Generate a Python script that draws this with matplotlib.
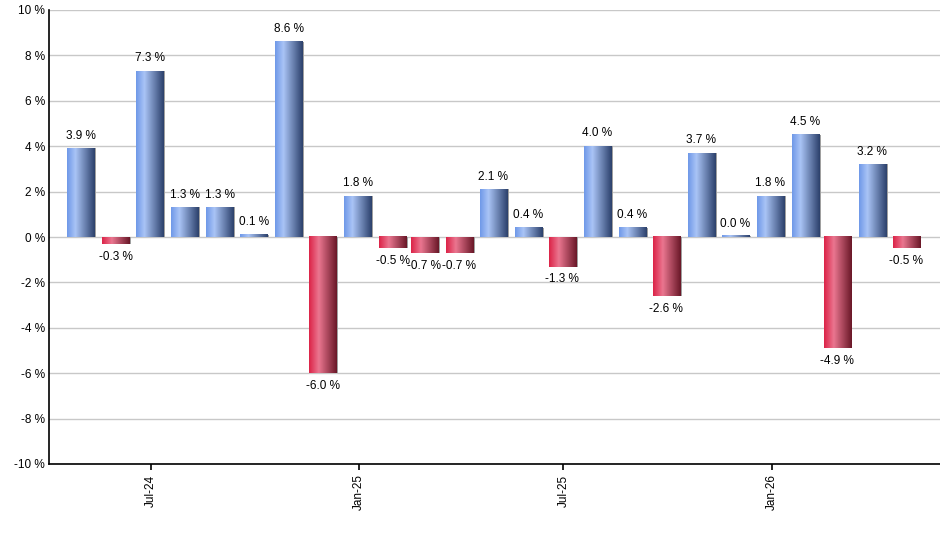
import numpy as np
import matplotlib
matplotlib.use("Agg")
import matplotlib.pyplot as plt
import matplotlib.dates as mdates
from matplotlib.colors import LinearSegmentedColormap
from matplotlib.patches import Rectangle
import datetime as dt

plt.rcParams["font.family"] = ["Liberation Sans", "DejaVu Sans"]

# monthly returns, one per month end (Apr-2024 .. Apr-2026)
start_year, start_month = 2024, 4
returns = [3.9, -0.3, 7.3, 1.3, 1.3, 0.1, 8.6, -6.0, 1.8, -0.5, -0.7, -0.7,
           2.1, 0.4, -1.3, 4.0, 0.4, -2.6, 3.7, 0.0, 1.8, 4.5, -4.9, 3.2, -0.5]
tick_dates = [dt.date(2024, 7, 1), dt.date(2025, 1, 1), dt.date(2025, 7, 1), dt.date(2026, 1, 1)]
tick_labels = ["Jul-24", "Jan-25", "Jul-25", "Jan-26"]


def month_end(y, m):
    if m == 12:
        return dt.date(y + 1, 1, 1) - dt.timedelta(days=1)
    return dt.date(y, m + 1, 1) - dt.timedelta(days=1)


dates = []
y, m = start_year, start_month
for _ in returns:
    dates.append(month_end(y, m))
    m += 1
    if m > 12:
        m = 1
        y += 1
xs = mdates.date2num(dates)

blue = LinearSegmentedColormap.from_list(
    "b", [(0, "#6f99e8"), (0.3, "#aac4f6"), (1, "#2c416c")])
red = LinearSegmentedColormap.from_list(
    "r", [(0, "#dc2448"), (0.35, "#ea7690"), (1, "#6a1828")])
grad = np.linspace(0, 1, 64).reshape(1, -1)

fig = plt.figure(figsize=(9.4, 5.5), dpi=100)
ax = fig.add_axes([49 / 940, 1 - 464 / 550, 1 - 49 / 940, 454 / 550])

half = 12
for x, v in zip(xs, returns):
    y0, y1 = min(0, v), max(0, v)
    if y1 - y0 < 0.06:
        y1 = y0 + 0.06
    cmap = blue if v >= 0 else red
    # small grey shadow on the right edge
    ax.add_patch(Rectangle((x + half, y0), 1.6, y1 - y0, color="#a0a0a0", zorder=2, lw=0))
    ax.imshow(grad, extent=[x - half, x + half, y0, y1], aspect="auto",
              cmap=cmap, zorder=3, interpolation="bilinear")
    if v >= 0:
        ax.text(x, v + 0.3, f"{v:.1f} %", ha="center", va="bottom", fontsize=8.5, zorder=4)
    else:
        ax.text(x, v - 0.3, f"{v:.1f} %", ha="center", va="top", fontsize=8.5, zorder=4)

ax.set_xlim(mdates.date2num(dt.date(2024, 4, 2)), mdates.date2num(dt.date(2026, 5, 30)))
ax.set_ylim(-10, 10)
ax.set_yticks(range(-10, 11, 2))
ax.set_yticklabels([f"{t} %" for t in range(-10, 11, 2)], fontsize=8.5)
ax.set_xticks(mdates.date2num(tick_dates))
ax.set_xticklabels(tick_labels, rotation=90, fontsize=8.5)
ax.grid(axis="y", color="#c8c8c8", lw=1)
ax.set_axisbelow(True)
for s in ["top", "right"]:
    ax.spines[s].set_visible(False)
ax.spines["left"].set_linewidth(1.2)
ax.spines["bottom"].set_linewidth(1.2)
ax.tick_params(axis="y", length=0, pad=3)
ax.tick_params(axis="x", length=4, width=1.2)

fig.savefig("out.png", dpi=100)
